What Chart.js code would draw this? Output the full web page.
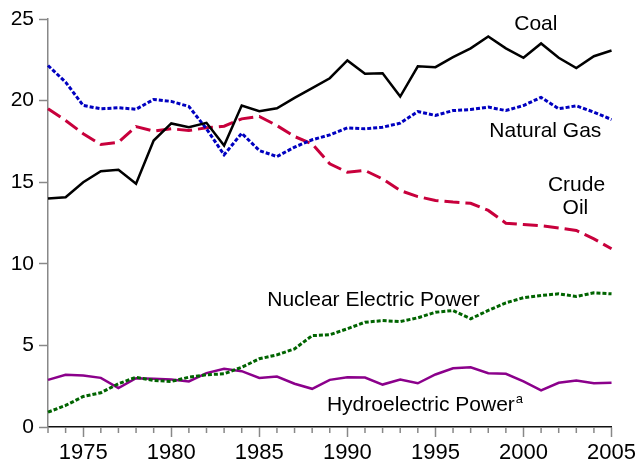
<!DOCTYPE html>
<html>
<head>
<meta charset="utf-8">
<script src="https://cdn.jsdelivr.net/npm/chart.js@4.4.0/dist/chart.umd.min.js"></script>
<style>
  body { margin: 0; background: #fff; }
  #wrap { width: 639px; height: 468px; }
</style>
</head>
<body>
<div id="wrap"><canvas id="grafico" width="639" height="468"></canvas></div>
<script>
// anos e valores (quadrilhoes de Btu)
var anos = [1973, 1974, 1975, 1976, 1977, 1978, 1979, 1980, 1981, 1982, 1983, 1984, 1985, 1986, 1987, 1988, 1989,
            1990, 1991, 1992, 1993, 1994, 1995, 1996, 1997, 1998, 1999, 2000, 2001, 2002, 2003, 2004, 2005];

var carvao = [14.0, 14.08, 15.0, 15.67, 15.76, 14.9, 17.55, 18.6, 18.37, 18.64, 17.25, 19.7, 19.35, 19.53, 20.17, 20.76, 21.37,
              22.46, 21.64, 21.68, 20.25, 22.1, 22.05, 22.66, 23.2, 23.93, 23.2, 22.62, 23.5, 22.62, 21.99, 22.72, 23.07];

var gasNatural = [22.15, 21.13, 19.7, 19.5, 19.56, 19.47, 20.07, 19.95, 19.64, 18.27, 16.68, 18.0, 16.94, 16.57, 17.15, 17.6, 17.9,
                  18.33, 18.27, 18.37, 18.62, 19.33, 19.09, 19.39, 19.45, 19.6, 19.39, 19.7, 20.2, 19.5, 19.68, 19.29, 18.84];

var petroleo = [19.5, 18.78, 17.97, 17.31, 17.45, 18.41, 18.13, 18.27, 18.17, 18.33, 18.43, 18.88, 19.03, 18.47, 17.8, 17.35, 16.13,
                15.61, 15.72, 15.2, 14.49, 14.12, 13.88, 13.78, 13.71, 13.27, 12.49, 12.41, 12.33, 12.2, 12.04, 11.53, 10.92];

var nuclear = [0.91, 1.32, 1.87, 2.1, 2.65, 3.05, 2.85, 2.79, 3.05, 3.2, 3.26, 3.66, 4.18, 4.42, 4.79, 5.6, 5.65,
               6.02, 6.42, 6.52, 6.46, 6.69, 7.03, 7.14, 6.63, 7.14, 7.61, 7.92, 8.06, 8.16, 8.0, 8.22, 8.16];

var hidro = [2.89, 3.2, 3.16, 3.01, 2.38, 2.99, 2.95, 2.91, 2.79, 3.3, 3.57, 3.42, 3.01, 3.09, 2.65, 2.34, 2.89,
             3.05, 3.03, 2.6, 2.91, 2.68, 3.22, 3.6, 3.66, 3.3, 3.26, 2.79, 2.24, 2.71, 2.85, 2.68, 2.71];

var ticksY = [0, 5, 10, 15, 20, 25];

// rotulos escritos dentro do grafico (posicao em ano / valor)
var rotulos = [
    { texto: 'Coal', ano: 2000.7, valor: 24.34, alinhar: 'center' },
    { texto: 'Natural Gas', ano: 2001.24, valor: 17.76, alinhar: 'center' },
    { texto: 'Crude', ano: 2003.01, valor: 14.49, alinhar: 'center' },
    { texto: 'Oil', ano: 2002.95, valor: 13.06, alinhar: 'center' },
    { texto: 'Nuclear Electric Power', ano: 1991.48, valor: 7.44, alinhar: 'center' },
    { texto: 'Hydroelectric Power', ano: 1988.84, valor: 0.95, alinhar: 'left', sobrescrito: 'a' }
];

var fonte = '"Liberation Sans", Arial, sans-serif';

// tracinhos menores nos anos que nao sao multiplos de 5
var ticksMenores = {
    id: 'ticksMenores',
    afterDraw: function (chart) {
        var ctx = chart.ctx;
        var x = chart.scales.x;
        var base = chart.chartArea.bottom;
        ctx.save();
        ctx.strokeStyle = '#888';
        ctx.lineWidth = 1.5;
        for (var i = 0; i < anos.length; i++) {
            if (anos[i] % 5 === 0) continue;
            var px = x.getPixelForValue(i);
            ctx.beginPath();
            ctx.moveTo(px, base);
            ctx.lineTo(px, base + 6);
            ctx.stroke();
        }
        ctx.restore();
    }
};

var textos = {
    id: 'textos',
    afterDatasetsDraw: function (chart) {
        var ctx = chart.ctx;
        var x = chart.scales.x;
        var y = chart.scales.y;
        ctx.save();
        ctx.fillStyle = '#000';
        ctx.textBaseline = 'alphabetic';
        rotulos.forEach(function (r) {
            ctx.font = '21px ' + fonte;
            ctx.textAlign = r.alinhar;
            var px = x.getPixelForValue(r.ano - anos[0]);
            var py = y.getPixelForValue(r.valor);
            ctx.fillText(r.texto, px, py);
            if (r.sobrescrito) {
                var w = ctx.measureText(r.texto).width;
                ctx.font = '13px ' + fonte;
                ctx.textAlign = 'left';
                ctx.fillText(r.sobrescrito, px + w + 1, py - 8);
            }
        });
        ctx.restore();
    }
};

var ctx = document.getElementById('grafico');
var meuGrafico = new Chart(ctx, {
    type: 'line',
    data: {
        labels: anos,
        datasets: [
            { label: 'Coal', data: carvao, borderColor: '#000000', borderWidth: 2.5 },
            { label: 'Natural Gas', data: gasNatural, borderColor: '#0000c0', borderWidth: 3, borderDash: [4, 2] },
            { label: 'Crude Oil', data: petroleo, borderColor: '#c8003c', borderWidth: 3, borderDash: [15, 6] },
            { label: 'Nuclear Electric Power', data: nuclear, borderColor: '#006400', borderWidth: 3, borderDash: [4, 2] },
            { label: 'Hydroelectric Power', data: hidro, borderColor: '#8b008b', borderWidth: 2.5 }
        ]
    },
    options: {
        responsive: false,
        animation: false,
        events: [],
        elements: {
            point: { radius: 0 },
            line: { tension: 0, fill: false, borderCapStyle: 'butt' }
        },
        layout: {
            padding: { left: 0, top: 19, right: 27, bottom: 0 }
        },
        plugins: {
            legend: { display: false },
            tooltip: { enabled: false }
        },
        scales: {
            x: {
                type: 'category',
                offset: false,
                afterFit: function (s) { s.height = 41; },
                border: { display: true, color: '#111', width: 1.5 },
                grid: {
                    drawOnChartArea: false,
                    drawTicks: true,
                    tickLength: 10,
                    tickWidth: 1.5,
                    tickColor: function (c) {
                        return anos[c.index] % 5 === 0 ? '#888' : 'rgba(0,0,0,0)';
                    }
                },
                ticks: {
                    autoSkip: false,
                    maxRotation: 0,
                    padding: 3,
                    color: '#000',
                    font: { family: fonte, size: 22 },
                    callback: function (v, i) {
                        return anos[i] % 5 === 0 ? String(anos[i]) : '';
                    }
                }
            },
            y: {
                min: 0,
                max: 25,
                afterFit: function (s) { s.width = 48; },
                afterBuildTicks: function (s) {
                    s.ticks = ticksY.map(function (v) { return { value: v }; });
                },
                border: { display: true, color: '#888', width: 1.5 },
                grid: {
                    drawOnChartArea: false,
                    tickLength: 9,
                    tickWidth: 1.5,
                    tickColor: '#888'
                },
                ticks: {
                    padding: 5,
                    color: '#000',
                    font: { family: fonte, size: 21 }
                }
            }
        }
    },
    plugins: [ticksMenores, textos]
});
</script>
</body>
</html>
